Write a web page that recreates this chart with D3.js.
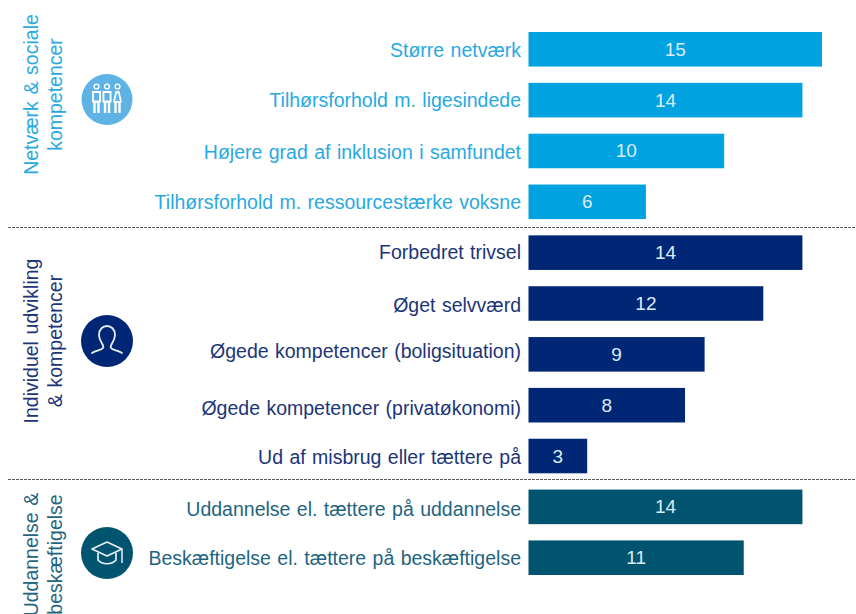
<!DOCTYPE html>
<html>
<head>
<meta charset="utf-8">
<script src="https://d3js.org/d3.v7.min.js"></script>
<style>
    body { margin: 0; background: white; }
    text { font-family: "Liberation Sans", Arial, sans-serif; }
</style>
</head>
<body>
<svg width="856" height="614"></svg>
<script>

    // chart data
    const categories = [
        "Større netværk",
        "Tilhørsforhold m. ligesindede",
        "Højere grad af inklusion i samfundet",
        "Tilhørsforhold m. ressourcestærke voksne",
        "Forbedret trivsel",
        "Øget selvværd",
        "Øgede kompetencer (boligsituation)",
        "Øgede kompetencer (privatøkonomi)",
        "Ud af misbrug eller tættere på",
        "Uddannelse el. tættere på uddannelse",
        "Beskæftigelse el. tættere på beskæftigelse"
    ];
    const values = [15, 14, 10, 6, 14, 12, 9, 8, 3, 14, 11];
    const groupOf = [0, 0, 0, 0, 1, 1, 1, 1, 1, 2, 2];

    const groupLines = [
        ["Netværk & sociale", "kompetencer"],
        ["Individuel udvikling", "& kompetencer"],
        ["Uddannelse &", "beskæftigelse"]
    ];
    const barColors = ["#00a3e0", "#002776", "#00546f"];
    const textColors = ["#29a9e1", "#1c3578", "#1f6580"];
    const iconColors = ["#5eb3e4", "#002776", "#00546f"];

    // the labels in the picture sit a little unevenly against their bars
    const labelNudge = [1, 0, 2, 1, 0, 2, -3, 3, 1, 3, 1];

    const svg = d3.select("svg");

    const x = d3.scaleLinear().domain([0, 15]).range([528.5, 822]);
    const y = d3.scaleBand().domain(categories).range([32, 575]).paddingInner(0.32);

    const rows = svg.selectAll("g.row")
        .data(categories)
        .enter()
        .append("g")
        .attr("class", "row");

    rows.append("rect")
        .attr("x", x(0))
        .attr("y", d => y(d))
        .attr("width", (d, i) => x(values[i]) - x(0))
        .attr("height", y.bandwidth())
        .attr("fill", (d, i) => barColors[groupOf[i]]);

    rows.append("text")
        .attr("x", (d, i) => (x(0) + x(values[i])) / 2)
        .attr("y", d => y(d) + y.bandwidth() / 2 + 6.5)
        .attr("text-anchor", "middle")
        .attr("fill", "#dcecf6")
        .style("font-size", "19px")
        .text((d, i) => values[i]);

    rows.append("text")
        .attr("x", 521)
        .attr("y", (d, i) => y(d) + y.bandwidth() / 2 + 6.5 + labelNudge[i])
        .attr("text-anchor", "end")
        .attr("fill", (d, i) => textColors[groupOf[i]])
        .style("font-size", "19.5px")
        .style("word-spacing", "1px")
        .text(d => d);

    // dashed separators between the groups
    svg.selectAll("line.sep")
        .data([227.5, 479.5])
        .enter()
        .append("line")
        .attr("class", "sep")
        .attr("x1", 8)
        .attr("x2", 856)
        .attr("y1", d => d)
        .attr("y2", d => d)
        .attr("stroke", "#5a5a5a")
        .attr("stroke-width", 1)
        .attr("stroke-dasharray", "3 1");

    // rotated group titles, the last pair runs off the bottom as in the picture
    const titleCenters = [94.5, 341, 554.5];
    groupLines.forEach((lines, g) => {
        svg.append("text")
            .attr("transform", "translate(38," + titleCenters[g] + ") rotate(-90)")
            .attr("text-anchor", "middle")
            .attr("fill", textColors[g])
            .style("font-size", "19.5px")
            .style("word-spacing", "1.2px")
            .text(lines[0]);
        svg.append("text")
            .attr("transform", "translate(62," + titleCenters[g] + ") rotate(-90)")
            .attr("text-anchor", "middle")
            .attr("fill", textColors[g])
            .style("font-size", "19.5px")
            .style("word-spacing", "1.2px")
            .text(lines[1]);
    });

    // icons
    const iconY = [99.5, 341, 553];
    const icons = svg.selectAll("g.icon")
        .data(iconY)
        .enter()
        .append("g")
        .attr("class", "icon")
        .attr("transform", d => "translate(107," + d + ")");

    icons.append("circle")
        .attr("r", (d, i) => i === 0 ? 25.5 : 26)
        .attr("fill", (d, i) => iconColors[i]);

    // three people
    const people = d3.select(icons.nodes()[0]);
    [-10.5, 0, 10.5].forEach((cx, i) => {
        const p = people.append("g").attr("transform", "translate(" + cx + ",0)");
        p.append("circle").attr("cy", -13).attr("r", 2.4)
            .attr("fill", "none").attr("stroke", "white").attr("stroke-width", 1.4);
        if (i < 2) {
            p.append("path").attr("d", "M-4.5,-8.5H4.5V3H3.2V13.5H0.8V3.5H-0.8V13.5H-3.2V3H-4.5Z M-2.6,-6.5V1H2.6V-6.5Z")
                .attr("fill", "white").attr("fill-rule", "evenodd");
        } else {
            p.append("path").attr("d", "M-2,-8.5H2L4.5,3H3.2V13.5H0.8V3.5H-0.8V13.5H-3.2V3H-4.5Z M-0.8,-6L-2.4,1.5H2.4L0.8,-6Z")
                .attr("fill", "white").attr("fill-rule", "evenodd");
        }
    });

    // single person outline
    d3.select(icons.nodes()[1]).append("path")
        .attr("d", "M-15,12C-11,9 -6,9.5 -4,7C-2,4 -8,1 -8,-6C-8,-12 -4,-15 0,-15C4,-15 8,-12 8,-6C8,1 2,4 4,7C6,9.5 11,9 15,12")
        .attr("fill", "none")
        .attr("stroke", "#e8eef6")
        .attr("stroke-width", 1.8)
        .attr("stroke-linecap", "round");

    // graduation cap
    const cap = d3.select(icons.nodes()[2]);
    cap.append("path")
        .attr("d", "M0,-11L-15,-4L0,3L15,-4Z")
        .attr("fill", "none").attr("stroke", "#e8eef6").attr("stroke-width", 1.7).attr("stroke-linejoin", "round");
    cap.append("path")
        .attr("d", "M-9,0V7C-5,12 5,12 9,7V0")
        .attr("fill", "none").attr("stroke", "#e8eef6").attr("stroke-width", 1.7);
    cap.append("path")
        .attr("d", "M15,-4V10")
        .attr("fill", "none").attr("stroke", "#e8eef6").attr("stroke-width", 1.5);

</script>
</body>
</html>
